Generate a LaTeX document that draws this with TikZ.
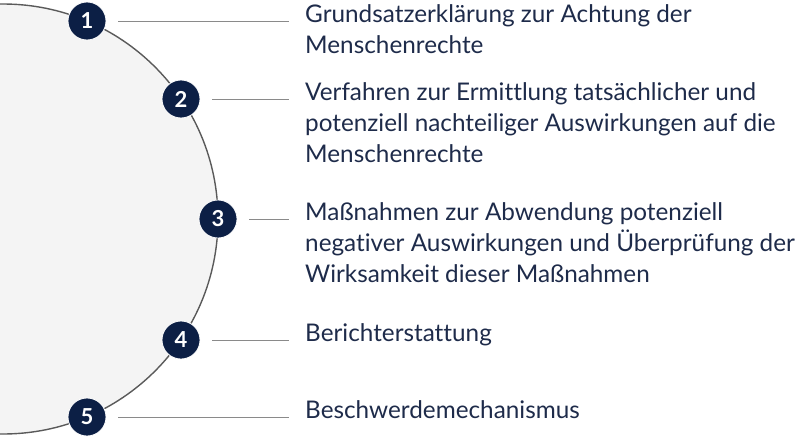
\documentclass[tikz,border=0pt]{standalone}
\usepackage{fontspec}
\setmainfont{Lato}[Ligatures={NoCommon}]
\definecolor{navy}{HTML}{0C1F45}
\definecolor{txt}{HTML}{1E2B4A}
\definecolor{arcfill}{HTML}{F4F4F4}
\definecolor{arcline}{HTML}{5A5A5A}
\definecolor{conncol}{HTML}{8A8A8A}
\tikzset{
  badge/.style={circle, fill=navy, draw=white, line width=0.8pt, minimum size=38pt, inner sep=0pt, text=white, font=\fontsize{22}{22}\selectfont\bfseries},
  label/.style={anchor=base west, inner sep=0pt, align=left, text=txt, font=\fontsize{24.3}{31}\selectfont},
  conn/.style={draw=conncol, line width=0.9pt}
}
\begin{document}
\begin{tikzpicture}[x=1pt,y=-1pt]
\useasboundingbox (0,0) rectangle (800,439);
\begin{scope}
\clip (0,0) rectangle (800,439);
\coordinate (c) at (3,219);
\draw[fill=arcfill, draw=arcline, line width=1.4pt] (c) circle (215);
\end{scope}
\node[badge] (b1) at (87,21) {1};
\node[badge] (b2) at (181,99) {2};
\node[badge] (b3) at (218,219) {3};
\node[badge] (b4) at (181,340) {4};
\node[badge] (b5) at (87,417) {5};
% base anchor of a multi-line node is the baseline of its last line
\node[label] (t1) at (305,53) {Grundsatzerklärung zur Achtung der\\Menschenrechte};
\node[label] (t2) at (305,162) {Verfahren zur Ermittlung tatsächlicher und\\potenziell nachteiliger Auswirkungen auf die\\Menschenrechte};
\node[label] (t3) at (305,282) {Maßnahmen zur Abwendung potenziell\\negativer Auswirkungen und Überprüfung der\\Wirksamkeit dieser Maßnahmen};
\node[label] (t4) at (305,341) {Berichterstattung};
\node[label] (t5) at (305,418) {Beschwerdemechanismus};
\foreach \i in {1,...,5}{
  \draw[conn] ([xshift=12pt]b\i.east) -- ([xshift=-16pt]b\i.center -| t\i.west);
}
\end{tikzpicture}
\end{document}
